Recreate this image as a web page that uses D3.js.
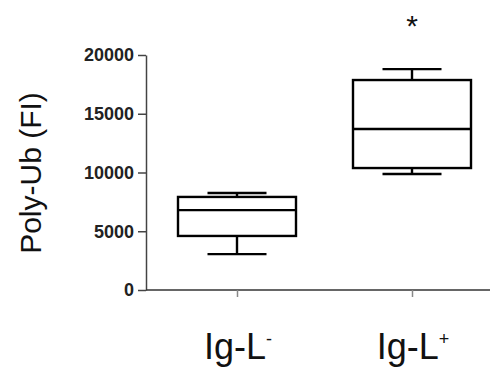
<!DOCTYPE html>
<html><head><meta charset="utf-8">
<script src="https://cdn.jsdelivr.net/npm/d3@7"></script>
<style>body{margin:0;background:#fff}svg{display:block}</style>
</head><body>
<svg id="c" width="493" height="374"></svg>
<script>
const categories = ["Ig-L-", "Ig-L+"];
const whiskerLow = [3050, 9870];
const q1 = [4600, 10380];
const median = [6800, 13700];
const q3 = [7920, 17870];
const whiskerHigh = [8250, 18800];
const yTicks = [0, 5000, 10000, 15000, 20000];
const significant = [false, true];

const svg = d3.select("#c");
const y = d3.scaleLinear().domain([0, 20000]).range([290, 55]);
const x = d3.scalePoint().domain(categories).range([146, 503]).padding(0.52);
const boxW = 118, capW = 59;
const FONT = "Liberation Sans, Arial, sans-serif";

// y axis
const ya = svg.append("g").attr("transform", "translate(146,0)")
  .call(d3.axisLeft(y).tickValues(yTicks).tickFormat(d3.format("d")).tickSize(8).tickSizeOuter(0).tickPadding(4));
ya.select(".domain").attr("stroke", "#444").attr("stroke-width", 1.5);
ya.selectAll(".tick line").attr("stroke", "#444").attr("stroke-width", 1.5);
ya.selectAll(".tick text").attr("font-family", FONT)
  .attr("font-size", 18).attr("font-weight", "bold").attr("fill", "#222");

// x axis
const xa = svg.append("g").attr("transform", "translate(0,290)")
  .call(d3.axisBottom(x).tickSize(7).tickSizeOuter(0).tickFormat(""));
xa.select(".domain").attr("d", "M146,0H490").attr("stroke", "#333").attr("stroke-width", 1.5);
xa.selectAll(".tick line").attr("stroke", "#888").attr("stroke-width", 1.5);

// category labels
const lab = svg.append("g").selectAll("text").data(categories).join("text")
  .attr("x", d => x(d) + 1).attr("y", 359)
  .attr("text-anchor", "middle")
  .attr("font-family", FONT).attr("font-size", 36).attr("fill", "#111");
lab.append("tspan").text(d => d.slice(0, -1));
lab.append("tspan").attr("dy", -14).attr("font-size", 18).text(d => d.slice(-1) === "-" ? "-" : "+");

// y label
svg.append("text").attr("transform", "translate(41,173) rotate(-90)")
  .attr("text-anchor", "middle")
  .attr("font-family", FONT).attr("font-size", 30).attr("fill", "#111")
  .text("Poly-Ub (FI)");

// boxes
const g = svg.append("g").attr("stroke", "#000").attr("stroke-width", 2.4).attr("fill", "none");
categories.forEach((c, i) => {
  const cx = x(c);
  g.append("line").attr("x1", cx).attr("x2", cx).attr("y1", y(whiskerHigh[i])).attr("y2", y(q3[i]));
  g.append("line").attr("x1", cx).attr("x2", cx).attr("y1", y(q1[i])).attr("y2", y(whiskerLow[i]));
  g.append("line").attr("x1", cx - capW/2).attr("x2", cx + capW/2).attr("y1", y(whiskerHigh[i])).attr("y2", y(whiskerHigh[i]));
  g.append("line").attr("x1", cx - capW/2).attr("x2", cx + capW/2).attr("y1", y(whiskerLow[i])).attr("y2", y(whiskerLow[i]));
  g.append("rect").attr("x", cx - boxW/2).attr("width", boxW).attr("y", y(q3[i])).attr("height", y(q1[i]) - y(q3[i]));
  g.append("line").attr("x1", cx - boxW/2).attr("x2", cx + boxW/2).attr("y1", y(median[i])).attr("y2", y(median[i]));
  if (significant[i]) {
    svg.append("text").attr("x", cx).attr("y", 36).attr("text-anchor", "middle")
      .attr("font-family", FONT).attr("font-size", 30).attr("fill", "#111").text("*");
  }
});
</script>
</body></html>
